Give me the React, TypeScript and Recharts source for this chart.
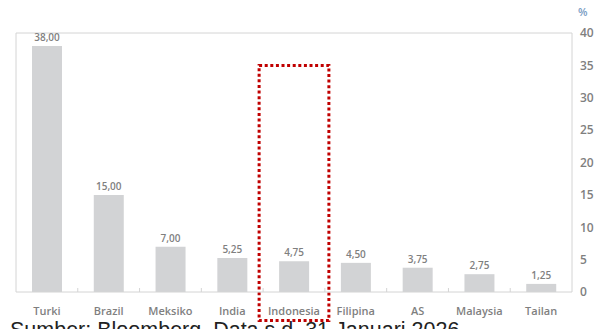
import { BarChart, Bar, XAxis, YAxis, LabelList, ReferenceArea, ReferenceLine } from "recharts";

const countries = ["Turki", "Brazil", "Meksiko", "India", "Indonesia", "Filipina", "AS", "Malaysia", "Tailan"];
const rates = [38.0, 15.0, 7.0, 5.25, 4.75, 4.5, 3.75, 2.75, 1.25];
const yTicks = [0, 5, 10, 15, 20, 25, 30, 35, 40];
const highlightCountry = "Indonesia";
const caption = "Sumber: Bloomberg, Data s.d. 31 Januari 2026";

const GRAY_TEXT = "#7f7f7f";
const FRAME = "#d4d4d4";
const FONT = "'Open Sans', 'Noto Sans', sans-serif";
const X_TICK_MARGIN = 15;
const HIGHLIGHT_PAD = 4;

const data = countries.map((name, i) => ({ name, rate: rates[i] }));

const fmt = (v: number) => v.toFixed(2).replace(".", ",");

// category label plus an Excel-style tick mark on the boundary to its right
function CategoryTick(props: any) {
  const { x, y, payload, index } = props;
  const axisY = y - X_TICK_MARGIN;
  const half = payload?.offset ?? 0;
  const last = index === countries.length - 1;
  return (
    <g>
      {!last && half > 0 && (
        <line x1={x + half} x2={x + half} y1={axisY} y2={axisY - 4} stroke={FRAME} />
      )}
      <text
        x={x}
        y={y}
        dy="0.71em"
        textAnchor="middle"
        fill={GRAY_TEXT}
        fontSize={11}
        fontWeight={600}
        fontFamily={FONT}
      >
        {payload.value}
      </text>
    </g>
  );
}

// dotted box, drawn a little wider than the category band
function HighlightBox(props: any) {
  const { x, y, width, height } = props;
  if (x == null || width == null) return null;
  return (
    <rect
      x={x - HIGHLIGHT_PAD}
      y={y}
      width={width + HIGHLIGHT_PAD * 2}
      height={height}
      fill="none"
      stroke="#c00000"
      strokeWidth={3}
      strokeDasharray="3 2.6"
    />
  );
}

export default function App() {
  return (
    <div style={{ position: "absolute", left: 0, top: 0, width: 600, height: 329, background: "#fff", overflow: "hidden" }}>
      <BarChart
        width={600}
        height={329}
        data={data}
        margin={{ top: 33, right: 0, bottom: 7, left: 16 }}
        barSize={30}
      >
        <XAxis
          dataKey="name"
          xAxisId="cat"
          height={30}
          axisLine={{ stroke: FRAME }}
          tickLine={false}
          tickSize={0}
          tickMargin={X_TICK_MARGIN}
          interval={0}
          tick={<CategoryTick />}
        />
        <YAxis
          yAxisId="left"
          orientation="left"
          domain={[0, 40]}
          ticks={yTicks}
          width={1}
          mirror
          tickSize={3}
          axisLine={{ stroke: FRAME }}
          tickLine={{ stroke: FRAME }}
          tickFormatter={() => ""}
        />
        <YAxis
          yAxisId="right"
          orientation="right"
          domain={[0, 40]}
          ticks={yTicks}
          width={28}
          axisLine={{ stroke: FRAME }}
          tickLine={false}
          tickSize={0}
          tickMargin={8}
          tick={{ fill: GRAY_TEXT, fontSize: 12, fontWeight: 600, fontFamily: FONT, textAnchor: "start" }}
        />
        <ReferenceLine yAxisId="right" xAxisId="cat" y={40} stroke={FRAME} ifOverflow="visible" />
        <Bar dataKey="rate" xAxisId="cat" yAxisId="right" fill="#d2d3d5" isAnimationActive={false}>
          <LabelList
            dataKey="rate"
            position="top"
            offset={5}
            formatter={(v: any) => fmt(Number(v))}
            style={{ fill: GRAY_TEXT, fontSize: 10, fontWeight: 600, fontFamily: FONT }}
          />
        </Bar>
        <ReferenceArea
          xAxisId="cat"
          yAxisId="right"
          x1={highlightCountry}
          x2={highlightCountry}
          y1={-4.4}
          y2={35}
          ifOverflow="visible"
          shape={<HighlightBox />}
        />
      </BarChart>
      <div
        style={{
          position: "absolute",
          left: 578,
          top: 4,
          fontFamily: FONT,
          fontSize: 11,
          fontWeight: 600,
          color: "#7a9cc4",
        }}
      >
        %
      </div>
      <div
        style={{
          position: "absolute",
          left: 10,
          top: 318,
          fontFamily: "'Liberation Sans', Arial, sans-serif",
          fontSize: 21.5,
          lineHeight: "normal",
          color: "#222",
          whiteSpace: "nowrap",
        }}
      >
        {caption}
      </div>
    </div>
  );
}
